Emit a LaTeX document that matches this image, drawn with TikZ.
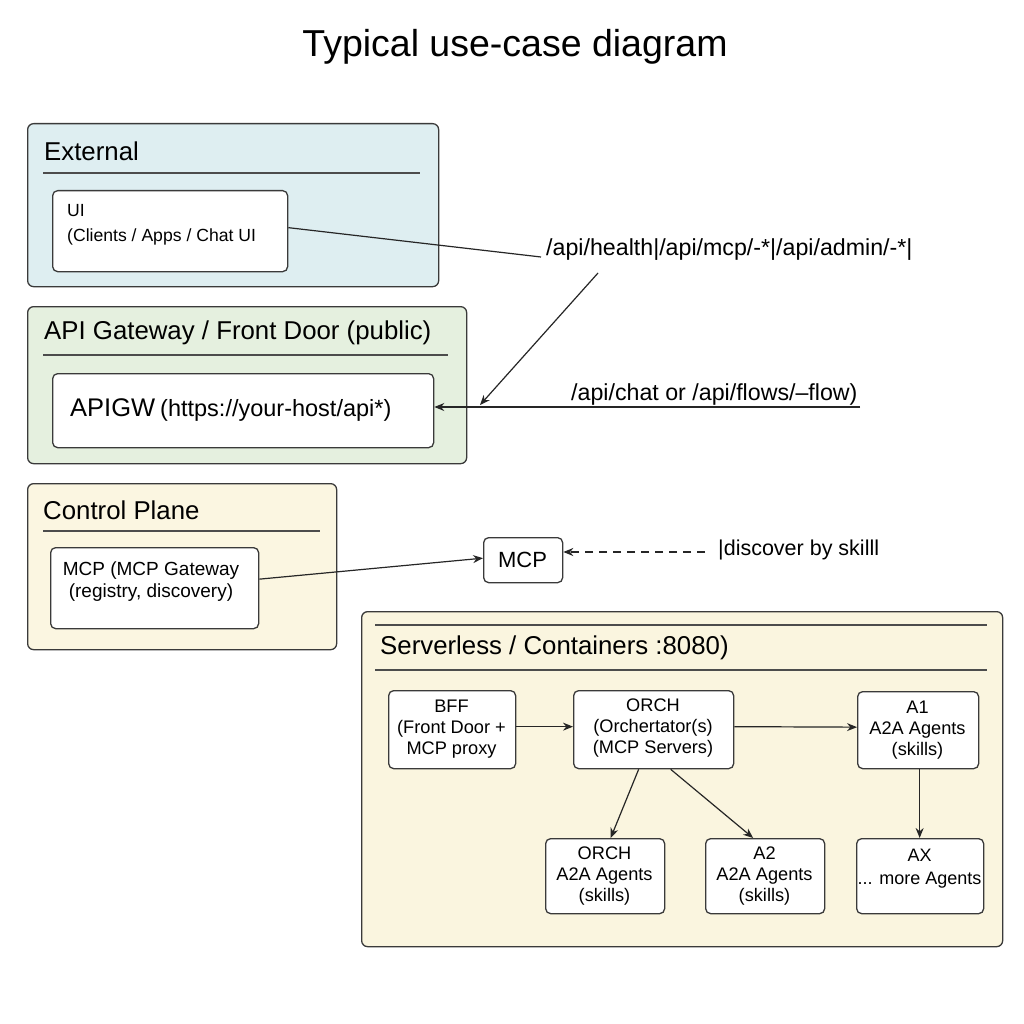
\documentclass[tikz,border=0pt]{standalone}
\usepackage{fontspec}
\setmainfont{Liberation Sans}
\usetikzlibrary{arrows.meta}
\definecolor{bordc}{HTML}{3A3A3A}
\definecolor{extfill}{HTML}{DEEEF1}
\definecolor{gwfill}{HTML}{E5F0DF}
\definecolor{cpfill}{HTML}{FBF6E1}
\definecolor{slfill}{HTML}{FAF5DF}
\newcommand{\fs}[2]{\fontsize{#1}{#2}\selectfont}
\begin{document}
\begin{tikzpicture}[x=1pt,y=-1pt,
  grp/.style={draw=bordc, line width=1.3, rounded corners=6, anchor=north west, inner sep=0},
  box/.style={draw=bordc, fill=white, line width=1.3, rounded corners=5, anchor=north west, inner sep=0},
  arr/.style={-{Stealth[length=10,width=8]}, line width=1.2, draw=black!85},
  rulel/.style={line width=1.1, draw=black!70},
  sectitle/.style={anchor=west, inner sep=0, font=\fs{25.8}{30}},
  ntext/.style={align=center, inner sep=0, font=\fs{18.2}{21}},
  lbl/.style={anchor=west, inner sep=0, font=\fs{23.2}{27}}
]
\useasboundingbox (0,0) rectangle (1024,1024);
\fill[white] (0,0) rectangle (1024,1024);

% title
\node[inner sep=0, font=\fs{37.5}{42}] (title) at (515,47) {Typical use-case diagram};

% groups
\node[grp, fill=extfill, minimum width=411, minimum height=163] (ext) at (27,123) {};
\node[sectitle] (extt) at (44,151) {External};
\draw[rulel] (43,173) -- (420,173);

\node[grp, fill=gwfill, minimum width=439, minimum height=157] (gw) at (27,306) {};
\node[sectitle] (gwt) at (44,333) {API Gateway / Front Door (public)};
\draw[rulel] (43,355) -- (448,355);

\node[grp, fill=cpfill, minimum width=309, minimum height=166] (cp) at (27,483) {};
\node[sectitle] (cpt) at (43,510) {Control Plane};
\draw[rulel] (43,531) -- (320,531);

\node[grp, fill=slfill, minimum width=641, minimum height=335] (sl) at (361,611) {};
\draw[rulel] (375,625) -- (987,625);
\node[sectitle] (slt) at (380,648) {Serverless / Containers :8080)};
\draw[rulel] (375,670) -- (987,670);

% boxes
\node[box, minimum width=235, minimum height=81] (ui) at (52,190) {};
\node[anchor=west, align=left, inner sep=0, font=\fs{17.6}{25}] (uit) at (67,224.5) {UI\\(Clients / Apps / Chat UI};

\node[box, minimum width=381, minimum height=74] (apigw) at (52,373) {};
\node[anchor=west, inner sep=0] (apigwt) at (70,410) {{\fs{25.5}{30}APIGW}\hspace{5pt}{\fs{23.5}{28}(https://your-host/api*)}};

\node[box, minimum width=208, minimum height=81] (mcpgw) at (50,547) {};
\node[ntext, font=\fs{19}{22}] (mcpgwt) at (151,582) {MCP (MCP Gateway\\(registry, discovery)};

\node[box, minimum width=79, minimum height=45] (mcp) at (483,537) {};
\node[inner sep=0, font=\fs{22}{26}] (mcpt) at (522.5,559.5) {MCP};

\node[box, minimum width=127, minimum height=78] (bff) at (388,690) {};
\node[ntext] (bfft) at (451.5,729) {BFF\\(Front Door +\\MCP proxy};

\node[box, minimum width=160, minimum height=78] (orch) at (573,690) {};
\node[ntext] (orcht) at (653,728) {ORCH\\(Orchertator(s)\\(MCP Servers)};

\node[box, minimum width=121, minimum height=77] (a1) at (857,691) {};
\node[ntext] (a1t) at (917.5,730.5) {A1\\A2A Agents\\(skills)};

\node[box, minimum width=119, minimum height=75] (orch2) at (545,838) {};
\node[ntext] (orch2t) at (604.5,876.5) {ORCH\\A2A Agents\\(skills)};

\node[box, minimum width=119, minimum height=75] (a2) at (705,838) {};
\node[ntext] (a2t) at (764.5,876.5) {A2\\A2A Agents\\(skills)};

\node[box, minimum width=127, minimum height=75] (ax) at (856,838) {};
\node[ntext, font=\fs{18}{23}] (axt) at (919.5,868.5) {AX\\... more Agents};

% labels
\node[lbl] (lbl1) at (546,250) {/api/health|/api/mcp/-*|/api/admin/-*|};
\node[lbl] (lbl2) at (571,394) {/api/chat or /api/flows/–flow)};
\node[anchor=west, inner sep=0, font=\fs{21.5}{25}] (lbl3) at (718,550) {|discover by skilll};

\coordinate (c1) at (541,257);
\coordinate (c2) at (598,273);
\coordinate (c2e) at (480,405);
\coordinate (c3) at (860,407);
\coordinate (c4) at (705,552);

% connectors
\draw[rulel, draw=black!85, line width=1.2] ([yshift=3.5]ui.east) -- (c1);
\draw[arr] (c2) -- (c2e);
\draw[arr] (c3) -- (apigw.east |- c3);
\draw[arr] ([yshift=9]mcpgw.east) -- ([yshift=2]mcp.west);
\draw[arr, dashed, dash pattern=on 8 off 6, line width=1.6] (c4) -- (mcp.east |- c4);

\draw[arr] ([yshift=3]bff.east) -- ([yshift=3]orch.west);
\draw[arr] ([yshift=3]orch.east) -- ([yshift=3]a1.west);
\draw[arr] ([xshift=-15]orch.south) -- ([xshift=5.5]orch2.north);
\draw[arr] ([xshift=17]orch.south) -- ([xshift=-12]a2.north);
\draw[arr] ([xshift=1.5]a1.south) -- ([xshift=1.5]a1.south |- ax.north);
\end{tikzpicture}
\end{document}
